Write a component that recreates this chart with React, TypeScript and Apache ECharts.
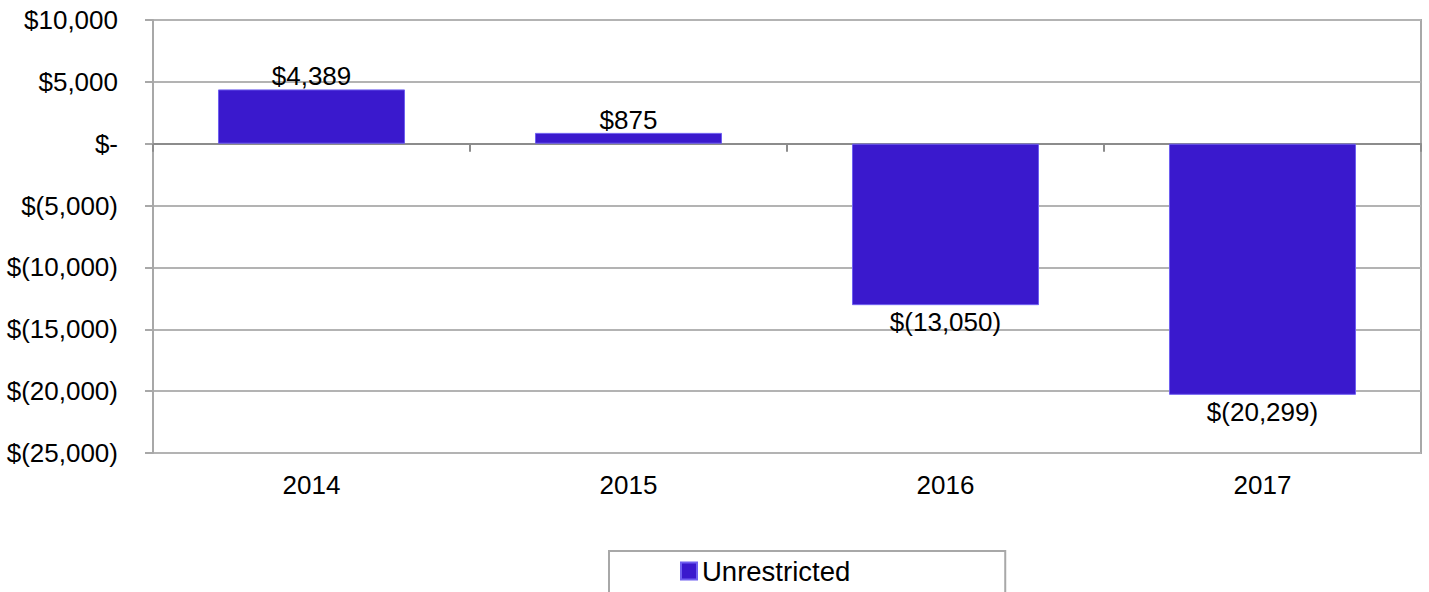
import React, { useEffect, useRef } from "react";
import * as echarts from "echarts";

const categories = ["2014", "2015", "2016", "2017"];
const unrestricted = [4389, 875, -13050, -20299];
const seriesName = "Unrestricted";

const fmt = (v: number) => {
  if (v === 0) return "$-";
  const s = Math.abs(v).toLocaleString("en-US");
  return v < 0 ? `$(${s})` : `$${s}`;
};

export default function App() {
  const ref = useRef<HTMLDivElement>(null);
  useEffect(() => {
    const chart = echarts.init(ref.current!, null, { renderer: "svg" });
    const font = "'Liberation Sans', Arial, sans-serif";
    chart.setOption({
      animation: false,
      textStyle: { fontFamily: font },
      grid: {
        left: 153,
        right: 8,
        top: 20,
        bottom: 139,
        show: true,
        borderColor: "#a8a8a8",
        borderWidth: 2,
      },
      legend: {
        data: [seriesName],
        left: 609,
        top: 551,
        orient: "horizontal",
        icon: "rect",
        itemWidth: 16,
        itemHeight: 17,
        padding: [6, 155, 30, 71],
        borderColor: "#a8a8a8",
        borderWidth: 2,
        textStyle: { fontSize: 27.5, color: "#000", fontFamily: font },
      },
      xAxis: [
        {
          type: "category",
          data: categories,
          axisLine: { onZero: true, lineStyle: { color: "#8c8c8c", width: 2 } },
          axisTick: { show: true, length: 8, lineStyle: { color: "#8c8c8c", width: 2 } },
          axisLabel: { show: false },
        },
        {
          type: "category",
          data: categories,
          position: "bottom",
          axisLine: { show: false, onZero: false },
          axisTick: { show: false },
          axisLabel: { margin: 19, fontSize: 26, color: "#000", fontFamily: font },
        },
      ],
      yAxis: {
        type: "value",
        min: -25000,
        max: 10000,
        interval: 5000,
        axisLine: { show: true, lineStyle: { color: "#a8a8a8", width: 2 } },
        axisTick: { show: true, length: 8, lineStyle: { color: "#a8a8a8", width: 2 } },
        splitLine: { show: true, lineStyle: { color: "#b3b3b3", width: 2 } },
        axisLabel: {
          margin: 35,
          fontSize: 26,
          color: "#000",
          fontFamily: font,
          formatter: (v: number) => fmt(v),
        },
      },
      series: [
        {
          name: seriesName,
          type: "bar",
          xAxisIndex: 0,
          data: unrestricted.map((v) =>
            v < 0 ? { value: v, label: { position: "bottom", distance: 4 } } : v
          ),
          barCategoryGap: "41%",
          itemStyle: { color: "#3a19cd", borderColor: "#6f5ff0", borderWidth: 1 },
          label: {
            show: true,
            fontSize: 26,
            color: "#000",
            fontFamily: font,
            formatter: (p: any) => fmt(p.value),
            position: "top",
            distance: 0,
          },
        },
      ],
    });
    return () => chart.dispose();
  }, []);
  return <div ref={ref} style={{ width: 1429, height: 592, position: "absolute", left: 0, top: 0 }} />;
}
